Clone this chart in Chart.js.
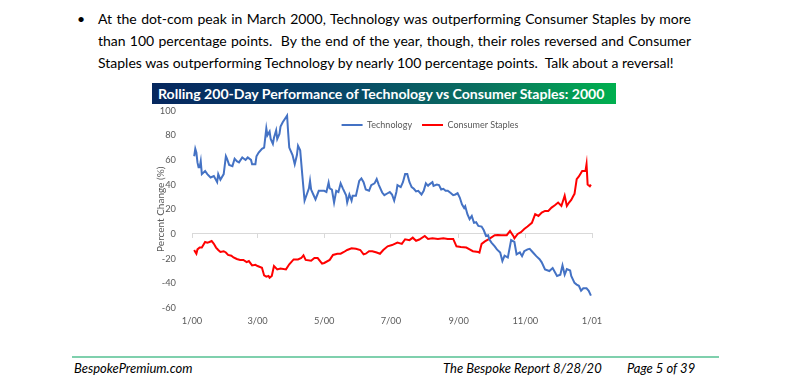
<!DOCTYPE html>
<html lang="en">
<head>
  <meta charset="UTF-8" />
  <title>Rolling 200-Day Performance of Technology vs Consumer Staples: 2000</title>
  <script src="https://cdn.jsdelivr.net/npm/chart.js@4.4.1/dist/chart.umd.min.js"></script>
  <style>
    html, body {
      margin: 0;
      padding: 0;
      background: #fff;
    }

    body {
      width: 790px;
      height: 385px;
      position: relative;
      overflow: hidden;
      font-family: 'Lato', sans-serif;
      color: #000;
    }

    .bullet {
      position: absolute;
      left: 77px;
      top: 8px;
      font-size: 14px;
      line-height: 22px;
    }

    .para {
      position: absolute;
      left: 98px;
      top: 8px;
      width: 593px;
      font-size: 14px;
      line-height: 22px;
    }

    .para .ln {
      white-space: nowrap;
    }

    .para .j {
      white-space: normal;
      text-align: justify;
      text-align-last: justify;
    }

    .banner {
      position: absolute;
      left: 152px;
      top: 83px;
      width: 464px;
      height: 21px;
      background: linear-gradient(to right, #06275e 0%, #073f68 35%, #0a6e60 70%, #00b04f 100%);
      color: #fff;
      font-weight: 700;
      font-size: 14.1px;
      line-height: 21px;
      padding-left: 6px;
      box-sizing: border-box;
      white-space: nowrap;
      overflow: hidden;
    }

    .chart-box {
      position: absolute;
      left: 150px;
      top: 104px;
      width: 470px;
      height: 230px;
    }

    .rule {
      position: absolute;
      left: 72px;
      top: 356px;
      width: 647px;
      height: 2px;
      background: #7fd0ad;
    }

    .foot {
      position: absolute;
      top: 360px;
      font-size: 13px;
      font-style: italic;
      line-height: 16px;
      white-space: nowrap;
    }
  </style>
</head>

<body>
  <span class="bullet">•</span>
  <div class="para">
    <div class="ln j">At the dot-com peak in March 2000, Technology was outperforming Consumer Staples by more</div>
    <div class="ln j">than 100 percentage points.&nbsp; By the end of the year, though, their roles reversed and Consumer</div>
    <div class="ln">Staples was outperforming Technology by nearly 100 percentage points.&nbsp; Talk about a reversal!</div>
  </div>

  <div class="banner">Rolling 200-Day Performance of Technology vs Consumer Staples: 2000</div>

  <div class="chart-box">
    <canvas id="perfChart"></canvas>
  </div>

  <div class="rule"></div>
  <div class="foot" style="left:74px">BespokePremium.com</div>
  <div class="foot" style="left:443px">The Bespoke Report 8/28/20</div>
  <div class="foot" style="left:627px">Page 5 of 39</div>

  <script>
    // x values are days since 1/1/2000
    const monthTicks = [0, 60, 121, 182, 244, 305, 366];
    const monthLabels = ['1/00', '3/00', '5/00', '7/00', '9/00', '11/00', '1/01'];

    const techDays = [2, 3, 4, 5, 6, 7, 8, 9, 12, 14, 17, 20, 23, 24, 26, 29, 31, 32, 34, 37,
      39, 41, 43, 46, 49, 51, 54, 55, 58, 59, 61, 64, 66, 68, 69, 71, 72, 74, 75, 77,
      78, 80, 81, 83, 86, 87, 88, 89, 90, 92, 94, 96, 97, 99, 101, 103, 105, 107, 108, 109,
      111, 113, 116, 118, 121, 123, 125, 126, 128, 130, 132, 134, 136, 138, 141, 142, 144, 146, 147, 150,
      152, 153, 155, 157, 159, 162, 164, 167, 169, 171, 174, 176, 179, 181, 183, 185, 187, 188, 191, 193,
      195, 197, 199, 201, 203, 205, 207, 210, 212, 214, 216, 217, 220, 221, 224, 226, 228, 230, 232, 234,
      237, 239, 241, 243, 245, 247, 249, 250, 252, 254, 256, 258, 260, 262, 265, 267, 269, 271, 272, 274,
      277, 279, 282, 284, 286, 288, 289, 292, 295, 297, 300, 302, 304, 307, 309, 312, 315, 318, 320, 323,
      327, 330, 334, 337, 339, 341, 343, 346, 347, 350, 352, 354, 356, 358, 361, 363, 365];
    const techVals = [63, 69, 66, 58, 54, 54, 59, 48.5, 51, 48.5, 45.8, 47, 42, 48.5, 44, 48.5, 63, 61, 56, 55,
      61, 59, 58, 62, 60, 62, 60, 56.6, 56.6, 63, 66, 69, 70, 85.6, 80, 83, 77, 73, 78, 84,
      77, 81, 87, 90.5, 94.6, 96, 82, 70, 68, 64, 56.6, 64, 71.5, 67.8, 47, 27, 32, 37, 43, 36,
      32, 28, 35, 35, 35, 34, 41.7, 37, 36, 25.5, 35, 34, 41, 37, 31.4, 25.5, 32, 27, 31, 31,
      39, 43, 45, 42, 36, 35, 39.6, 41, 44.5, 39.6, 33.6, 31.4, 33, 34, 32, 27, 34, 39.6, 38, 42,
      48.5, 48.5, 42, 38, 36.6, 34.5, 35, 32, 35, 41, 39, 40, 42, 39, 40, 39.6, 36, 36.6, 35, 35,
      33, 31.4, 32, 33, 29.5, 24, 21, 22.5, 16, 12, 14.6, 9, 9.5, 6.5, 6, 3, -1.6, -1, -4.3, -7,
      -10, -12.5, -15, -22, -17.6, -18.5, -19, -5, -6.5, -16.5, -15, -18, -14, -12.5, -12, -15, -18, -20.5, -23, -28.7,
      -30, -27.6, -34, -33, -25.5, -33, -28.5, -29.6, -34, -39.6, -41, -42, -46, -44, -44, -46, -50];

    const stapDays = [2, 3, 4, 5, 7, 9, 12, 14, 16, 18, 20, 22, 24, 26, 29, 31, 33, 36, 38, 41,
      44, 47, 50, 52, 55, 58, 60, 64, 66, 68, 70, 71, 73, 75, 78, 81, 86, 89, 93, 97,
      100, 102, 104, 109, 112, 115, 119, 121, 126, 129, 133, 136, 139, 142, 146, 150, 154, 157, 159, 162,
      165, 169, 172, 175, 179, 183, 188, 192, 195, 199, 202, 205, 208, 213, 216, 220, 225, 230, 234, 239,
      242, 246, 251, 254, 257, 262, 263, 265, 268, 272, 277, 280, 283, 288, 291, 294, 295, 298, 301, 304,
      307, 311, 314, 317, 320, 323, 326, 329, 332, 335, 338, 341, 343, 345, 347, 349, 350, 352, 354, 357,
      360, 361, 362, 364, 365];
    const stapVals = [-13, -14.6, -16, -12.5, -11, -11, -6.5, -7, -6.5, -5.7, -8, -11, -13, -14.6, -14, -15, -17, -17.6, -19, -20.3,
      -21, -21, -22.8, -22, -25.5, -25, -26, -27.4, -33.6, -34.6, -34, -35.5, -34, -26, -28.7, -28, -28.7, -24.6, -20.6, -20.6,
      -19.5, -17.3, -21, -21.7, -19.5, -19.5, -24, -23.5, -21, -17, -16, -16, -14.6, -13, -11.6, -12, -13, -16.5, -16, -14,
      -14, -15, -16, -13, -10, -9, -7, -8, -4.3, -5, -3, -5.5, -4.5, -1.6, -4, -3.5, -4, -3.5, -4, -4,
      -10, -10.5, -11, -12.5, -14, -14.6, -15, -8, -6, -4, -1, -0.8, -1, -1, 2.5, -1.6, -3.5, 0, 1.5, 4,
      6, 9, 16, 14.6, 17.3, 18.7, 18.7, 21.4, 23.3, 25.5, 22.7, 31, 22.7, 25.5, 27.6, 31, 32.5, 44.5, 46.6, 51,
      51, 56.6, 40, 38.6, 40];

    const yMin = -60;
    const yMax = 100;
    const yStep = 20;

    const grey = '#595959';
    Chart.defaults.font.family = 'Lato, sans-serif';
    Chart.defaults.font.size = 9.3;
    Chart.defaults.color = grey;

    const toPoints = (days, vals) => days.map((d, i) => ({ x: d, y: vals[i] }));
    const setMonthTicks = (scale) => {
      scale.ticks = monthTicks.map(v => ({ value: v }));
    };

    // top legend takes no room and is drawn inside the plot, a bit right of centre
    const legendInPlot = {
      id: 'legendInPlot',
      beforeLayout(chart) {
        const lg = chart.legend;
        if (lg && !lg._inPlot) {
          const fit = lg.fit;
          lg.fit = function () {
            fit.call(this);
            this.height = 0;
          };
          lg._inPlot = true;
        }
      },
      afterLayout(chart) {
        const lg = chart.legend;
        if (!lg) return;
        lg.top = chart.chartArea.top;
        lg.bottom = lg.top + 20;
        lg.left = chart.chartArea.left + 38;
        lg.right = chart.chartArea.right + 38;
      }
    };

    new Chart(document.getElementById('perfChart'), {
      type: 'line',
      data: {
        datasets: [{
          label: 'Technology',
          data: toPoints(techDays, techVals),
          borderColor: '#4472c4',
          backgroundColor: '#4472c4',
          borderWidth: 2,
          pointRadius: 0,
          tension: 0
        }, {
          label: 'Consumer Staples',
          data: toPoints(stapDays, stapVals),
          borderColor: '#ff0000',
          backgroundColor: '#ff0000',
          borderWidth: 2,
          pointRadius: 0,
          tension: 0
        }]
      },
      options: {
        responsive: true,
        maintainAspectRatio: false,
        animation: false,
        layout: {
          padding: { top: 0, right: 28, bottom: 0, left: 0 }
        },
        plugins: {
          legend: {
            position: 'top',
            align: 'center',
            labels: {
              usePointStyle: true,
              pointStyle: 'line',
              pointStyleWidth: 21,
              boxHeight: 8,
              padding: 10,
              color: grey,
              font: { size: 9 }
            }
          },
          tooltip: { enabled: false }
        },
        scales: {
          x: {
            type: 'linear',
            min: 0,
            max: 366,
            position: { y: 0 },
            afterBuildTicks: setMonthTicks,
            afterFit: (s) => { s.height = 0; },
            ticks: { display: false },
            grid: {
              drawOnChartArea: false,
              drawTicks: true,
              tickLength: 4,
              color: '#d9d9d9'
            },
            border: { display: true, color: '#d9d9d9', width: 1 }
          },
          x2: {
            type: 'linear',
            position: 'bottom',
            min: 0,
            max: 366,
            afterBuildTicks: setMonthTicks,
            afterFit: (s) => { s.height = 26; },
            ticks: {
              padding: 7,
              maxRotation: 0,
              autoSkip: false,
              callback: (v, i) => monthLabels[i]
            },
            grid: { display: false, drawTicks: false },
            border: { display: false }
          },
          y: {
            min: yMin,
            max: yMax,
            afterFit: (s) => { s.width = 42; },
            ticks: {
              stepSize: yStep,
              padding: 1
            },
            // hidden tick marks only push the labels away from the plot
            grid: { display: false, drawTicks: true, tickLength: 15 },
            border: { display: false },
            title: {
              display: true,
              text: 'Percent Change (%)',
              color: grey,
              font: { size: 10 },
              padding: { top: 5, bottom: 0 }
            }
          }
        }
      },
      plugins: [legendInPlot]
    });
  </script>
</body>
</html>
